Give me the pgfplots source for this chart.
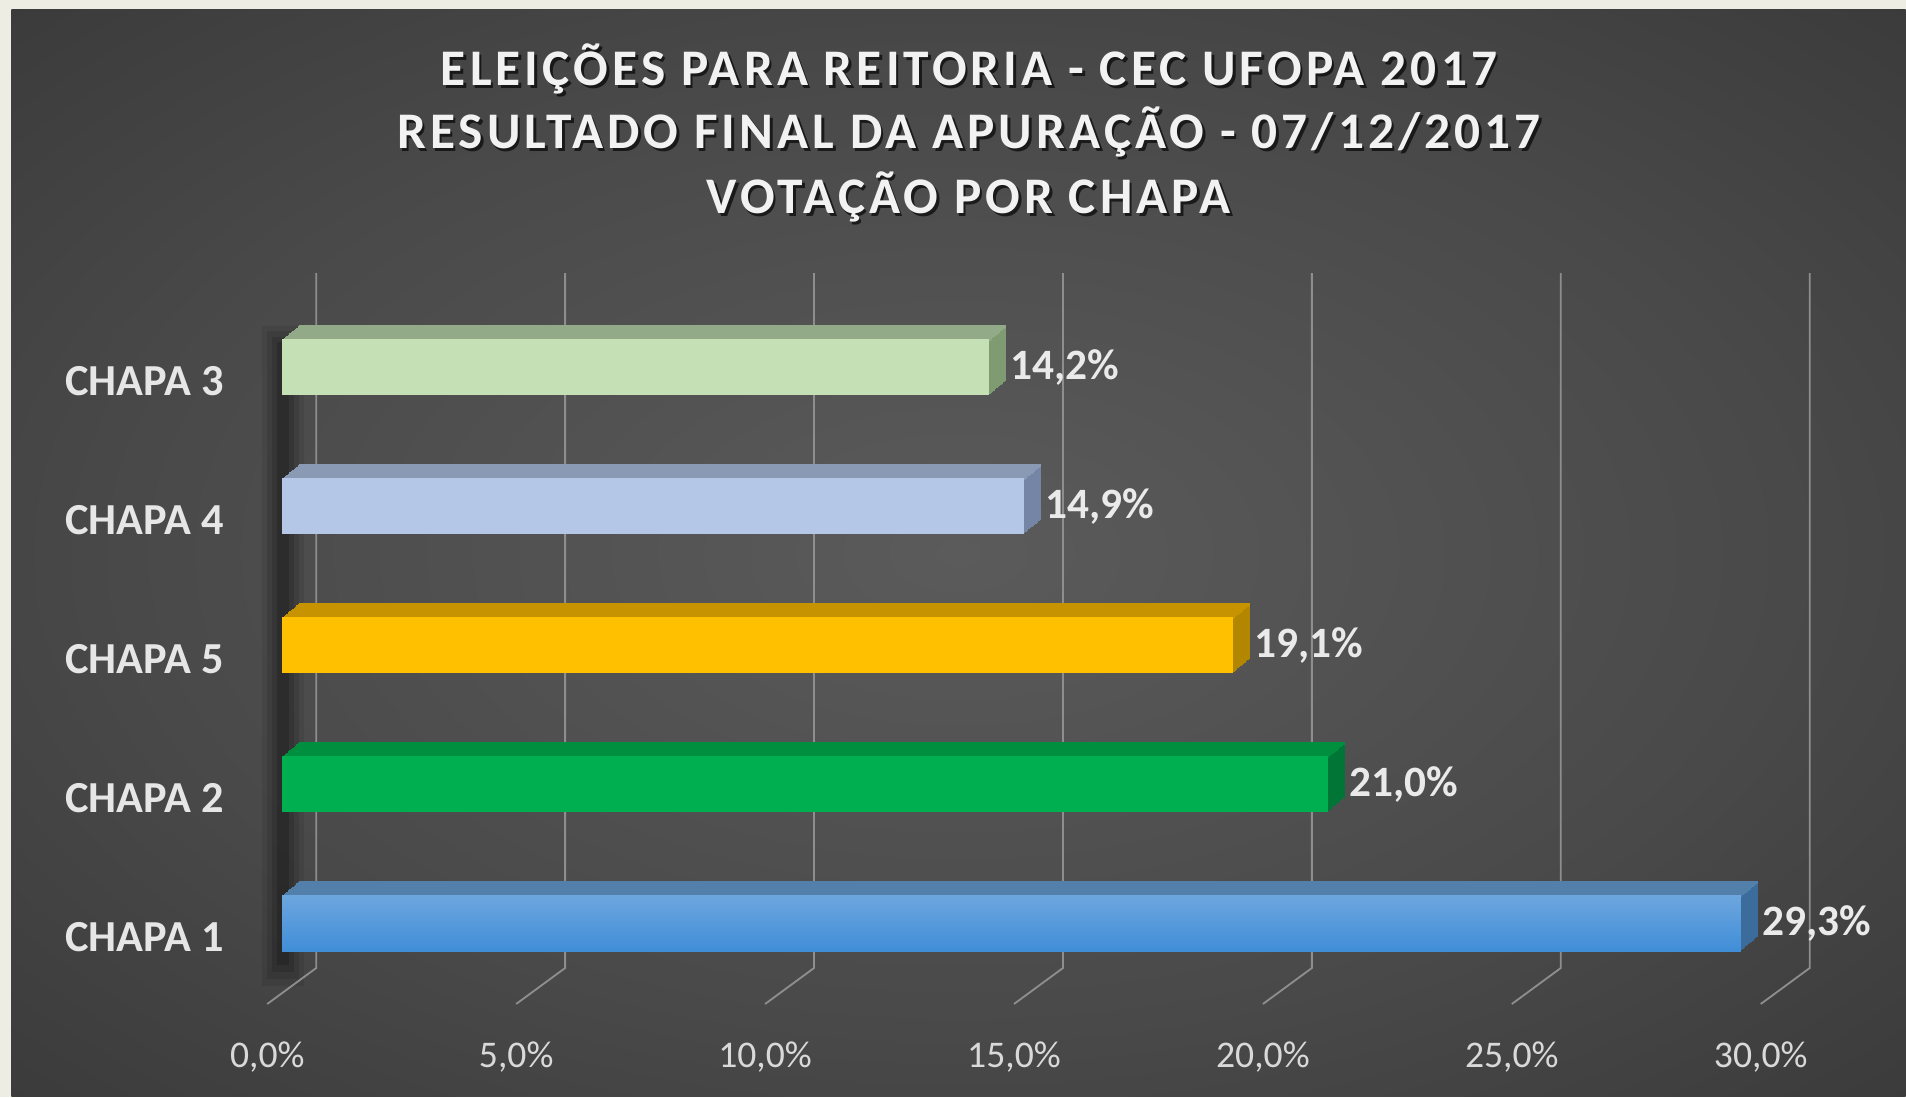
\documentclass[border=0pt]{standalone}
\usepackage{fontspec}
\setmainfont{Carlito}
\newfontfamily\titlefont[LetterSpace=8]{Carlito}
\usepackage{pgfplots}
\pgfplotsset{compat=1.18}

\definecolor{cream}{HTML}{EEEDE4}
\definecolor{bgc}{HTML}{5B5B5B}
\definecolor{bgm}{HTML}{494949}
\definecolor{bge}{HTML}{2C2C2C}
\definecolor{gridc}{HTML}{8E8E8E}
\definecolor{tickc}{HTML}{D9D9D9}
\definecolor{catc}{HTML}{E6E6E6}
\definecolor{labc}{HTML}{EAEAEA}
\definecolor{titc}{HTML}{F2F2F2}
% bar colours: front / top / side
\definecolor{cIIIf}{HTML}{C5E0B4}\definecolor{cIIIt}{HTML}{93AA88}\definecolor{cIIIs}{HTML}{7F9B72}
\definecolor{cIVf}{HTML}{B4C7E7}\definecolor{cIVt}{HTML}{8A9AB5}\definecolor{cIVs}{HTML}{7585A5}
\definecolor{cVf}{HTML}{FFC000}\definecolor{cVt}{HTML}{C89300}\definecolor{cVs}{HTML}{B38600}
\definecolor{cIIf}{HTML}{00B050}\definecolor{cIIt}{HTML}{008F3F}\definecolor{cIIs}{HTML}{007536}
\definecolor{cIft}{HTML}{6DA6DE}\definecolor{cIfb}{HTML}{408ED8}\definecolor{cIt}{HTML}{5380AA}\definecolor{cIs}{HTML}{3B6C9C}

\pgfdeclareradialshading{bgshade}{\pgfpoint{0bp}{0bp}}{color(0bp)=(bgc); color(22bp)=(bgm); color(50bp)=(bge); color(75bp)=(bge)}

% #1 value, #2 category position, #3 front style, #4 top colour, #5 side colour
\newcommand{\barthreed}[5]{%
  \pgfplotsinvokeforeach{1,...,12}{%
    \addplot[xbar, bar width=16.8pt, bar shift=0pt, draw=none, fill=#5,
      xshift=##1*0.425pt, yshift=##1*0.35pt, forget plot] coordinates {(#1,#2)};}
  \pgfplotsinvokeforeach{1,...,12}{%
    \addplot[xbar, bar width=0.8pt, bar shift=8.0pt, draw=none, fill=#4,
      xshift=##1*0.425pt, yshift=##1*0.35pt, forget plot] coordinates {(#1,#2)};}
  \addplot[xbar, bar width=16.8pt, bar shift=0pt, draw=none, #3, forget plot,
    point meta=x,
    nodes near coords={\pgfmathprintnumber[fixed,fixed zerofill,precision=1,use comma,assume math mode=true]{\pgfplotspointmeta}\%},
    nodes near coords style={anchor=west, inner sep=0pt, xshift=6.3pt, text=labc,
      font=\bfseries\fontsize{13pt}{15pt}\selectfont}] coordinates {(#1,#2)};
}

\newcommand{\ttlfont}{\titlefont\bfseries\fontsize{15.4pt}{18pt}\selectfont}
\newcommand{\ttlline}[2]{%
  \node[anchor=base, text=black, opacity=0.65, inner sep=0pt] at ([xshift=0.8pt,yshift=-1.0pt]axis cs:13.795,#1) {\ttlfont #2};
  \node[anchor=base, text=titc, inner sep=0pt] at (axis cs:13.795,#1) {\ttlfont #2};
}

\begin{document}
\begin{tikzpicture}
\begin{axis}[
  scale only axis,
  width=571.8pt, height=329.1pt,
  xmin=-5.66265, xmax=32.61044,
  ymin=-1.25180, ymax=6.64029,
  enlargelimits=false, clip=false,
  axis on top,
  axis line style={draw=none},
  major tick length=0pt,
  axis background/.style={fill=cream},
  xtick={0,5,10,15,20,25,30},
  xticklabels={{0,0\%},{5,0\%},{10,0\%},{15,0\%},{20,0\%},{25,0\%},{30,0\%}},
  xticklabel style={font=\fontsize{11.3pt}{13pt}\selectfont, text=tickc,
    anchor=base, yshift=9pt, xshift=-4.5pt},
  ytick={0,1,2,3,4},
  yticklabels={CHAPA 1,CHAPA 2,CHAPA 5,CHAPA 4,CHAPA 3},
  yticklabel style={font=\bfseries\fontsize{13.3pt}{15pt}\selectfont, text=catc,
    anchor=base east, inner sep=0pt, xshift=67.2pt, yshift=-8.4pt},
]
% dark chart area
\shade[shading=bgshade] (axis cs:-5.4418,-1.25180) rectangle (axis cs:32.61044,6.5755);
% wall shadow
\fill[black, opacity=0.08] ([xshift=-6.0pt]axis cs:0,4.30) rectangle ([xshift=6.6pt]axis cs:0,-0.45);
\fill[black, opacity=0.10] ([xshift=-4.5pt]axis cs:0,4.26) rectangle ([xshift=5.1pt]axis cs:0,-0.40);
\fill[black, opacity=0.13] ([xshift=-3.0pt]axis cs:0,4.22) rectangle ([xshift=3.6pt]axis cs:0,-0.35);
\fill[black, opacity=0.16] ([xshift=-1.5pt]axis cs:0,4.18) rectangle ([xshift=2.1pt]axis cs:0,-0.30);
% grid lines (back wall + floor)
\pgfplotsinvokeforeach{0,5,10,15,20,25,30}{%
  \draw[gridc, line width=0.55pt] ([xshift=10.2pt]axis cs:#1,4.6763) -- ++(0pt,-208.5pt) -- ++(-14.7pt,-10.8pt);
}
% bars
\barthreed{14.2}{4}{fill=cIIIf}{cIIIt}{cIIIs}
\barthreed{14.9}{3}{fill=cIVf}{cIVt}{cIVs}
\barthreed{19.1}{2}{fill=cVf}{cVt}{cVs}
\barthreed{21.0}{1}{fill=cIIf}{cIIt}{cIIs}
\barthreed{29.3}{0}{top color=cIft, bottom color=cIfb}{cIt}{cIs}
% title
\ttlline{6.0288}{ELEIÇÕES PARA REITORIA - CEC UFOPA 2017}
\ttlline{5.5755}{RESULTADO FINAL DA APURAÇÃO - 07/12/2017}
\ttlline{5.1079}{VOTAÇÃO POR CHAPA}
\end{axis}
\end{tikzpicture}
\end{document}
